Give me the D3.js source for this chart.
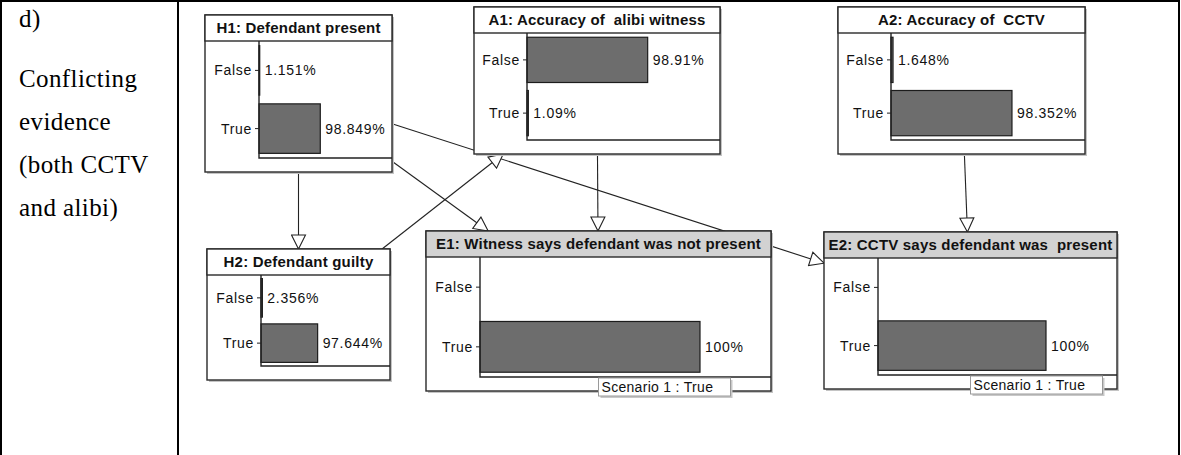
<!DOCTYPE html>
<html>
<head>
<meta charset="utf-8">
<script src="https://cdn.jsdelivr.net/npm/d3@7"></script>
<style>
  body { margin: 0; background: #fff; }
  svg { display: block; }
  .node-text { font-family: "Liberation Sans", Arial, sans-serif; font-size: 14px; letter-spacing: 0.7px; fill: #111; }
  .node-title { font-family: "Liberation Sans", Arial, sans-serif; font-size: 15px; font-weight: bold; letter-spacing: 0.2px; fill: #111; white-space: pre; }
  .side-text { font-family: "Liberation Serif", "Times New Roman", serif; font-size: 25px; letter-spacing: 0.4px; fill: #000; }
</style>
</head>
<body>
<div id="chart"></div>
<script>
"use strict";

// data
var sideLines = ["d)", "Conflicting", "evidence", "(both CCTV", "and alibi)"];
var states = ["False", "True"];
var nodeIds = ["H1", "A1", "A2", "H2", "E1", "E2"];
var nodeTitles = [
  "H1: Defendant present",
  "A1: Accuracy of  alibi witness",
  "A2: Accuracy of  CCTV",
  "H2: Defendant guilty",
  "E1: Witness says defendant was not present",
  "E2: CCTV says defendant was  present"
];
var falseValues = [1.151, 98.91, 1.648, 2.356, 0, 0];
var trueValues = [98.849, 1.09, 98.352, 97.644, 100, 100];
var evidenceIds = ["E1", "E2"];
var scenarioText = "Scenario 1 : True";
var edges = [["H1", "H2"], ["H1", "E1"], ["H1", "E2"], ["H2", "A1"], ["A1", "E1"], ["A2", "E2"]];

// box geometry (layout only)
var layout = {
  H1: { x: 205, y: 15, w: 187, h: 157, axis: 54 },
  A1: { x: 474, y: 7, w: 246, h: 147, axis: 53 },
  A2: { x: 838, y: 7, w: 247, h: 147, axis: 53 },
  H2: { x: 207, y: 249, w: 183, h: 131, axis: 54 },
  E1: { x: 426, y: 231, w: 345, h: 160, axis: 54 },
  E2: { x: 824, y: 232, w: 293, h: 157, axis: 54 }
};
var titleH = 26, bottomPad = 14, labelRoom = 71;

var width = 1181, height = 455;
var svg = d3.select("#chart").append("svg")
  .attr("width", width)
  .attr("height", height);

// table frame
var frame = svg.append("g");
frame.append("line").attr("x1", 0).attr("x2", 1180).attr("y1", 1).attr("y2", 1)
  .attr("stroke", "#000").attr("stroke-width", 2);
[1, 178, 1179].forEach(function (x) {
  frame.append("line").attr("x1", x).attr("x2", x).attr("y1", 0).attr("y2", height)
    .attr("stroke", "#000").attr("stroke-width", 2);
});

var sideY = [27, 87, 130, 173, 216];
svg.append("g").selectAll("text")
  .data(sideLines)
  .enter()
  .append("text")
  .classed("side-text", true)
  .attr("x", 19)
  .attr("y", function (d, i) { return sideY[i]; })
  .text(function (d) { return d; });

var nodes = nodeIds.map(function (id, i) {
  var L = layout[id];
  return {
    id: id,
    title: nodeTitles[i],
    values: [falseValues[i], trueValues[i]],
    evidence: evidenceIds.indexOf(id) >= 0,
    x: L.x, y: L.y, w: L.w, h: L.h, axis: L.axis,
    cx: L.x + L.w / 2, cy: L.y + L.h / 2
  };
});
var byId = {};
nodes.forEach(function (n) { byId[n.id] = n; });

// clip segment from box centre to its border
function clipToBox(n, tx, ty) {
  var dx = tx - n.cx, dy = ty - n.cy;
  var sx = dx === 0 ? Infinity : (n.w / 2) / Math.abs(dx);
  var sy = dy === 0 ? Infinity : (n.h / 2) / Math.abs(dy);
  var s = Math.min(sx, sy);
  return [n.cx + dx * s, n.cy + dy * s];
}

svg.append("defs").append("marker")
  .attr("id", "hollow")
  .attr("markerUnits", "userSpaceOnUse")
  .attr("viewBox", "0 0 16 16")
  .attr("refX", 15)
  .attr("refY", 8)
  .attr("markerWidth", 16)
  .attr("markerHeight", 16)
  .attr("orient", "auto")
  .append("path")
  .attr("d", "M1,1 L15,8 L1,15 Z")
  .attr("fill", "#fff")
  .attr("stroke", "#222")
  .attr("stroke-width", 1.1);

// edges under the boxes
svg.append("g").selectAll("line")
  .data(edges)
  .enter()
  .append("line")
  .each(function (d) {
    var a = byId[d[0]], b = byId[d[1]];
    var p = clipToBox(a, b.cx, b.cy);
    var q = clipToBox(b, a.cx, a.cy);
    d3.select(this)
      .attr("x1", p[0]).attr("y1", p[1])
      .attr("x2", q[0]).attr("y2", q[1]);
  })
  .attr("stroke", "#222")
  .attr("stroke-width", 1.1)
  .attr("marker-end", "url(#hollow)");

var boxes = svg.append("g").selectAll("g.node")
  .data(nodes)
  .enter()
  .append("g")
  .classed("node", true);

boxes.each(function (n) {
  var g = d3.select(this);
  var axisX = n.x + n.axis;
  var top = n.y + titleH;
  var bottom = n.y + n.h - bottomPad;
  var right = n.x + n.w;

  var xScale = d3.scaleLinear().domain([0, 100]).range([0, n.w - n.axis - labelRoom]);
  var yScale = d3.scaleBand().domain(states).range([top, bottom])
    .paddingInner(0.15).paddingOuter(0.08);

  // shadow + body
  g.append("rect")
    .attr("x", n.x + 2).attr("y", n.y + 2).attr("width", n.w).attr("height", n.h)
    .attr("fill", "#c4c4c4");
  g.append("rect")
    .attr("x", n.x).attr("y", n.y).attr("width", n.w).attr("height", n.h)
    .attr("fill", "#fff").attr("stroke", "#2a2a2a").attr("stroke-width", 1.4);
  g.append("rect")
    .attr("x", n.x).attr("y", n.y).attr("width", n.w).attr("height", titleH)
    .attr("fill", n.evidence ? "#d2d2d2" : "#fff")
    .attr("stroke", "#2a2a2a").attr("stroke-width", 1.4);
  g.append("text")
    .classed("node-title", true)
    .attr("x", n.cx)
    .attr("y", n.y + 18)
    .attr("text-anchor", "middle")
    .text(n.title);

  // bars
  g.selectAll("rect.bar")
    .data(states)
    .enter()
    .append("rect")
    .classed("bar", true)
    .attr("x", axisX)
    .attr("y", function (s) { return yScale(s); })
    .attr("width", function (s, i) { return xScale(n.values[i]); })
    .attr("height", yScale.bandwidth())
    .attr("fill", "#6d6d6d")
    .attr("stroke", "#1c1c1c")
    .attr("stroke-width", function (s, i) { return n.values[i] > 0 ? 1.2 : 0; });

  g.selectAll("text.val")
    .data(states)
    .enter()
    .filter(function (s, i) { return n.values[i] > 0; })
    .append("text")
    .classed("node-text", true)
    .attr("x", function (s) { return axisX + xScale(n.values[states.indexOf(s)]) + 5; })
    .attr("y", function (s) { return yScale(s) + yScale.bandwidth() / 2 + 5; })
    .text(function (s) { return n.values[states.indexOf(s)] + "%"; });

  // axes
  var yAxis = d3.axisLeft(yScale).tickSize(4).tickPadding(3);
  var ax = g.append("g")
    .attr("transform", "translate(" + axisX + ",0)")
    .call(yAxis);
  ax.select(".domain").remove();
  ax.selectAll(".tick line").attr("stroke", "#222");
  ax.selectAll(".tick text")
    .attr("class", "node-text")
    .attr("font-family", null)
    .attr("font-size", null)
    .attr("dy", "0.36em")
    .attr("fill", null);
  g.append("path")
    .attr("d", "M" + axisX + "," + top + "V" + bottom + "H" + right)
    .attr("fill", "none")
    .attr("stroke", "#222")
    .attr("stroke-width", 1.4);

  if (n.evidence) {
    var sx = n.cx, sy = bottom + 1;
    g.append("rect")
      .attr("x", sx + 2).attr("y", sy + 2).attr("width", 132).attr("height", 18)
      .attr("fill", "#c8c8c8");
    g.append("rect")
      .attr("x", sx).attr("y", sy).attr("width", 132).attr("height", 18)
      .attr("fill", "#fff").attr("stroke", "#9a9a9a").attr("stroke-width", 1);
    g.append("text")
      .classed("node-text", true)
      .attr("x", sx + 3)
      .attr("y", sy + 14)
      .style("letter-spacing", "0.3px")
      .text(scenarioText);
  }
});
</script>
</body>
</html>
